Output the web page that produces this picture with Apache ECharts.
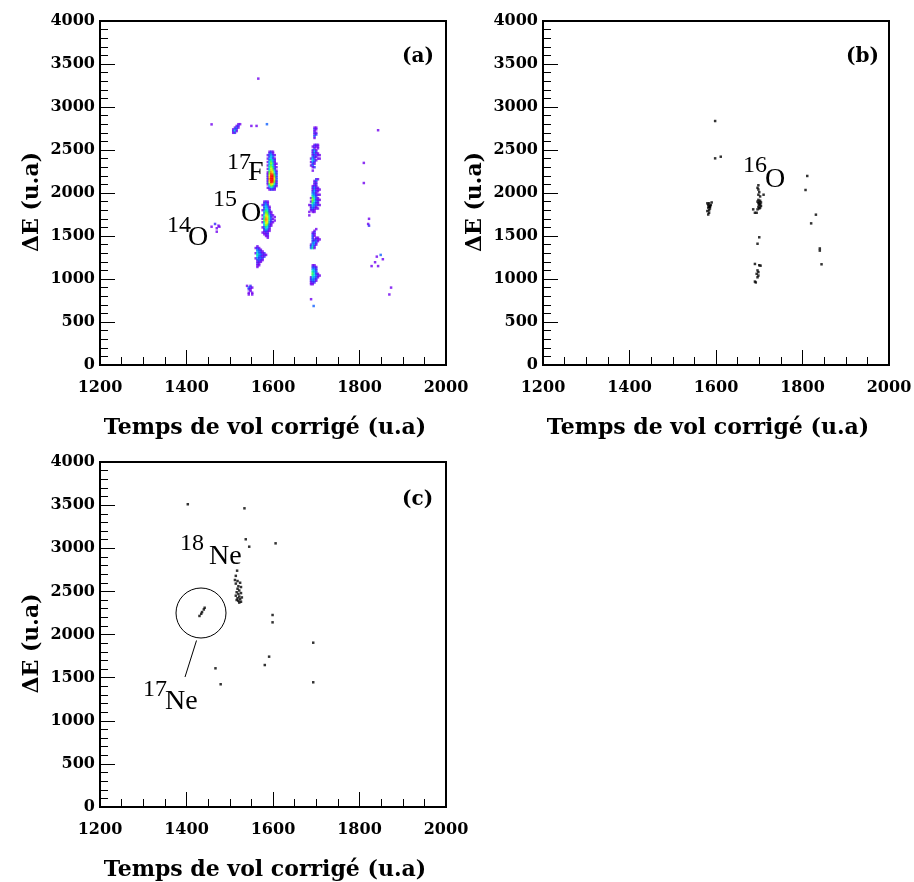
<!DOCTYPE html>
<html><head><meta charset="utf-8">
<script src="https://cdn.jsdelivr.net/npm/echarts@6.0.0/dist/echarts.min.js"></script>
<style>html,body{margin:0;padding:0;background:#fff}#c{width:914px;height:882px}</style>
</head><body><div id="c"></div>
<script>
// ---- axes ----
const xMin = 1200, xMax = 2000, xStep = 200;
const yMin = 0, yMax = 4000, yStep = 500;
const xTitle = 'Temps de vol corrigé (u.a)';
const yTitle = 'ΔE (u.a)';
const panelTags = ['(a)', '(b)', '(c)'];

// ---- histogram binning of panel (a) ----
const binX = 4, binY = 20;

// panel (a) clusters: [x of first bin column, y of top bin row, counts (rows top -> bottom)]
const aF17 = [1588, 2480, [
  [0,1,2,1,0,0],[0,2,3,1,0,0],[1,3,4,2,1,0],[0,2,5,3,0,0],[1,4,5,2,1,0],
  [0,3,6,4,2,0],[1,5,7,4,1,0],[0,4,8,6,2,1],[1,5,7,5,1,0],[0,6,8,6,3,1],
  [1,5,9,7,2,0],[0,6,10,8,4,1],[1,7,11,9,5,2],[1,8,12,11,6,2],[2,9,14,13,7,3],
  [1,10,16,15,8,2],[2,11,16,16,9,3],[1,10,15,14,8,2],[2,9,13,12,7,1],[1,7,10,9,5,2],
  [0,5,8,7,3,1],[1,3,5,4,2,0],[0,1,2,2,1,0]
]];
const aO15 = [1576, 1900, [
  [0,1,2,1,0,0,0,0],[0,2,3,1,0,0,0,0],[1,2,4,2,0,0,0,0],[0,3,5,3,1,0,0,0],
  [0,2,5,4,1,0,0,0],[1,3,6,5,2,0,0,0],[0,4,7,6,2,1,0,0],[0,3,8,7,3,1,0,0],
  [1,5,9,8,4,2,1,0],[0,6,10,9,5,2,0,1],[1,6,11,10,6,3,1,0],[0,7,11,10,5,2,0,1],
  [1,6,10,9,4,2,1,0],[0,5,9,8,3,1,0,0],[0,4,8,6,2,1,0,0],[1,3,6,5,2,0,0,0],
  [0,2,5,4,1,0,0,0],[0,2,3,2,1,0,0,0],[1,1,2,1,0,0,0,0],[0,1,1,2,0,0,0,0],
  [0,0,1,1,0,0,0,0],[0,0,0,1,0,0,0,0]
]];
const aMid1580 = [1560, 1380, [
  [0,1,0,0,0,0,0],[1,2,1,0,0,0,0],[0,3,2,1,0,0,0],[0,4,3,2,1,0,0],
  [1,5,3,2,1,2,0],[0,6,4,3,2,1,1],[0,5,3,2,1,2,0],[1,4,2,3,2,0,0],
  [0,2,3,2,1,0,0],[0,1,2,1,0,0,0],[0,2,1,0,0,0,0],[0,1,1,0,0,0,0],[0,1,0,0,0,0,0]
]];
const aLow1550 = [1540, 920, [
  [1,0,2,0,0],[0,3,2,1,0],[0,2,1,0,0],[0,0,1,0,0],[0,1,0,1,0],[0,1,0,1,0]
]];
const aTop1515 = [1508, 2800, [
  [0,0,0,1,1],[0,0,1,2,0],[0,1,3,1,0],[1,3,2,0,0],[2,5,1,0,0],[1,2,0,0,0]
]];
const a1700top = [1684, 2760, [
  [0,0,0,1,1,0,0],[0,0,0,2,1,0,0],[0,0,0,1,0,0,0],[0,0,0,2,1,0,0],
  [0,0,0,1,2,0,0],[0,0,0,3,0,0,0],[0,0,0,1,0,0,0]
]];
const a1700upper = [1684, 2560, [
  [0,0,0,1,2,1,0],[0,0,1,2,1,1,0],[0,0,0,1,0,1,0],[0,0,2,3,1,0,0],
  [0,0,1,4,2,0,0],[0,0,2,3,1,1,0],[0,0,1,2,3,1,1],[0,0,3,2,1,0,0],
  [0,1,4,2,0,1,1],[0,0,5,3,1,0,0],[0,1,4,2,0,0,0],[0,0,2,1,0,0,0],
  [0,1,3,0,0,0,0],[0,0,1,2,0,0,0],[0,0,0,0,0,0,0],[0,0,1,0,0,0,0]
]];
const a1700mid = [1684, 2160, [
  [0,0,0,0,2,1,0],[0,0,0,1,3,0,0],[0,0,0,2,1,0,0],[0,0,0,1,2,0,0],
  [0,0,1,2,1,0,0],[0,0,2,3,2,1,0],[0,0,1,3,1,1,1],[0,0,2,4,2,1,0],
  [0,0,3,3,1,0,0],[0,0,4,3,2,1,1],[0,0,6,4,2,0,0],[0,1,7,5,3,1,0],
  [0,0,8,6,2,1,1],[0,1,7,5,3,2,0],[0,0,6,4,2,1,0],[1,2,5,3,3,2,1],
  [0,1,4,3,1,0,0],[0,2,3,2,1,1,0],[0,1,2,1,0,0,0],[1,0,1,1,0,0,0],
  [0,0,0,0,0,0,0],[1,0,0,0,0,0,0]
]];
const a1700lower = [1684, 1580, [
  [0,0,0,0,1,0,0],[0,0,0,1,0,0,0],[0,0,1,2,0,0,0],[0,0,2,1,0,0,0],
  [0,0,3,1,0,0,0],[0,0,2,0,1,1,0],[0,0,3,1,2,1,1],[0,0,2,2,3,1,0],
  [0,0,3,4,2,0,0],[0,1,4,3,1,0,0],[0,2,5,2,0,0,0],[0,3,6,1,0,0,0]
]];
const a1700bottom = [1684, 1160, [
  [0,0,1,1,0,0,0],[0,0,2,2,1,0,0],[0,0,3,3,2,0,0],[0,0,5,4,2,0,0],
  [0,0,6,4,3,0,0],[0,0,7,5,2,1,0],[0,0,6,5,3,2,1],[0,1,5,4,3,1,0],
  [0,2,4,3,2,0,0],[0,2,3,3,1,0,0],[0,1,2,2,0,0,0],[0,1,1,0,0,0,0]
]];
// isolated bins of panel (a): [x, y, count]
const aSingles = [
  [1458,2798,1],[1550,2780,1],[1562,2780,1],[1586,2800,3],[1566,3330,1],
  [1458,1608,1],[1466,1640,2],[1470,1590,1],[1476,1608,1],[1470,1550,1],[1474,1620,1],
  [1688,765,1],[1694,686,3],
  [1843,2730,1],[1810,2350,1],[1810,2116,1],[1822,1700,1],[1820,1640,1],[1822,1620,2],
  [1840,1260,1],[1849,1280,3],[1854,1230,1],[1836,1195,1],[1828,1150,1],[1843,1150,1],
  [1873,900,1],[1869,820,1]
];

// panel (b) events: [x, y]
const bPoints = [
  [1598,2837],[1598,2403],[1611,2422],
  [1580,1880],[1584,1880],[1590,1890],[1582,1860],[1588,1860],[1586,1850],[1584,1840],
  [1586,1840],[1582,1830],[1586,1820],[1584,1800],[1580,1790],[1584,1770],[1582,1750],
  [1698,1920],[1702,1910],[1696,1900],[1700,1890],[1704,1890],[1698,1880],[1702,1870],
  [1700,1860],[1704,1850],[1698,1840],[1702,1830],[1700,1820],[1696,1810],[1686,1810],
  [1690,1770],[1694,1770],
  [1698,2090],[1696,2060],[1698,2040],[1700,2010],[1698,1980],[1702,1960],[1710,1980],
  [1700,1485],[1696,1410],
  [1690,1175],[1700,1160],[1703,1155],[1696,1100],[1698,1080],[1694,1060],[1698,1040],
  [1696,1020],[1690,970],[1692,960],
  [1811,2198],[1807,2035],[1831,1748],[1820,1647],[1840,1355],[1840,1330],[1844,1171]
];

// panel (c) events: [x, y]
const cPoints = [
  [1403,3510],[1534,3463],[1537,3104],[1545,3018],[1606,3057],
  [1517,2740],[1514,2680],[1512,2632],[1518,2620],[1524,2600],[1514,2590],[1520,2560],
  [1526,2550],[1518,2530],[1522,2510],[1516,2490],[1526,2480],[1520,2470],[1514,2450],
  [1522,2440],[1528,2430],[1518,2420],[1524,2410],[1516,2400],[1520,2390],[1526,2380],
  [1522,2370],
  [1430,2215],[1434,2240],[1436,2260],[1440,2290],[1442,2310],
  [1599,2226],[1599,2141],[1693,1905],[1591,1743],[1581,1646],[1467,1608],[1479,1423],
  [1693,1446]
];

// ---- build ----
function expand(cluster) {
  const x0 = cluster[0], yTop = cluster[1], rows = cluster[2];
  const out = [];
  rows.forEach((row, j) => row.forEach((c, i) => {
    if (c > 0) out.push([x0 + i * binX, yTop - j * binY, c]);
  }));
  return out;
}
const aData = [].concat(
  expand(aTop1515), expand(aLow1550), expand(aMid1580), expand(aO15), expand(aF17),
  expand(a1700top), expand(a1700upper), expand(a1700mid), expand(a1700lower), expand(a1700bottom),
  aSingles
);

const tickFont = { fontFamily: 'DejaVu Serif', fontWeight: 'bold', fontSize: 16, color: '#000' };
const titleFont = { fontFamily: 'DejaVu Serif', fontWeight: 'bold', fontSize: 22, color: '#000' };
const plain = v => String(v);

function xAx(g) {
  return {
    type: 'value', gridIndex: g, min: xMin, max: xMax, interval: xStep,
    name: xTitle, nameLocation: 'middle', nameGap: 52,
    nameTextStyle: Object.assign({ padding: [0, 16, 0, 0] }, titleFont),
    axisLine: { show: true, lineStyle: { color: '#000', width: 2 } },
    axisTick: { show: true, inside: true, length: 15, lineStyle: { color: '#000', width: 1 } },
    minorTick: { show: true, splitNumber: 4, length: 8, lineStyle: { color: '#000', width: 1 } },
    splitLine: { show: false },
    axisLabel: Object.assign({ margin: 15, formatter: plain }, tickFont)
  };
}
function yAx(g) {
  return {
    type: 'value', gridIndex: g, min: yMin, max: yMax, interval: yStep,
    name: yTitle, nameLocation: 'middle', nameGap: 57,
    nameTextStyle: Object.assign({ padding: [0, 18, 0, 0] }, titleFont),
    axisLine: { show: true, lineStyle: { color: '#000', width: 2 } },
    axisTick: { show: true, inside: true, length: 15, lineStyle: { color: '#000', width: 1 } },
    minorTick: { show: true, splitNumber: 5, length: 8, lineStyle: { color: '#000', width: 1 } },
    splitLine: { show: false },
    axisLabel: Object.assign({ margin: 5, formatter: plain }, tickFont)
  };
}
const gridBase = { show: true, borderColor: '#000', borderWidth: 2, backgroundColor: 'transparent', containLabel: false, outerBoundsMode: 'none' };

const supFont = '24px "Liberation Serif"';
const mainFont = '28px "Liberation Serif"';
const tagFont = 'bold 20px "DejaVu Serif"';
function txt(t, x, y, font) {
  return { type: 'text', x: x, y: y, silent: true,
    style: { text: t, font: font, fill: '#000', align: 'left', verticalAlign: 'middle' } };
}

const chart = echarts.init(document.getElementById('c'), null, { renderer: 'canvas' });
chart.setOption({
  animation: false,
  backgroundColor: '#fff',
  grid: [
    Object.assign({ left: 100, top: 21, width: 346, height: 344 }, gridBase),
    Object.assign({ left: 543, top: 21, width: 346, height: 344 }, gridBase),
    Object.assign({ left: 100, top: 462, width: 346, height: 345 }, gridBase)
  ],
  xAxis: [xAx(0), xAx(1), xAx(2)],
  yAxis: [yAx(0), yAx(1), yAx(2)],
  visualMap: {
    type: 'continuous', show: false, seriesIndex: 0, dimension: 2, min: 1, max: 13,
    inRange: { color: ['#7000f0', '#2030ff', '#0090ff', '#00d8e8', '#00f878', '#80ff00', '#e8ff00', '#ffc000', '#ff5000', '#ff0000'] }
  },
  series: [
    { type: 'scatter', xAxisIndex: 0, yAxisIndex: 0, symbol: 'rect', symbolSize: 2.5, data: aData, silent: true },
    { type: 'scatter', xAxisIndex: 1, yAxisIndex: 1, symbol: 'rect', symbolSize: 2.5, data: bPoints, itemStyle: { color: '#000' }, silent: true },
    { type: 'scatter', xAxisIndex: 2, yAxisIndex: 2, symbol: 'rect', symbolSize: 2.5, data: cPoints, itemStyle: { color: '#000' }, silent: true }
  ],
  graphic: [
    txt(panelTags[0], 402, 57, tagFont),
    txt(panelTags[1], 846, 57, tagFont),
    txt(panelTags[2], 402, 500, tagFont),
    txt('17', 227, 163, supFont), txt('F', 248, 173, mainFont),
    txt('15', 213, 200, supFont), txt('O', 241, 214, mainFont),
    txt('14', 167, 226, supFont), txt('O', 188, 238, mainFont),
    txt('16', 743, 166, supFont), txt('O', 765, 180, mainFont),
    txt('18', 180, 544, supFont), txt('Ne', 209, 557, mainFont),
    txt('17', 143, 690, supFont), txt('Ne', 165, 702, mainFont),
    { type: 'circle', silent: true, shape: { cx: 201, cy: 613, r: 25 }, style: { fill: null, stroke: '#000', lineWidth: 1 } },
    { type: 'line', silent: true, shape: { x1: 196.5, y1: 640.5, x2: 185, y2: 677 }, style: { stroke: '#000', lineWidth: 1 } }
  ]
});
</script></body></html>
